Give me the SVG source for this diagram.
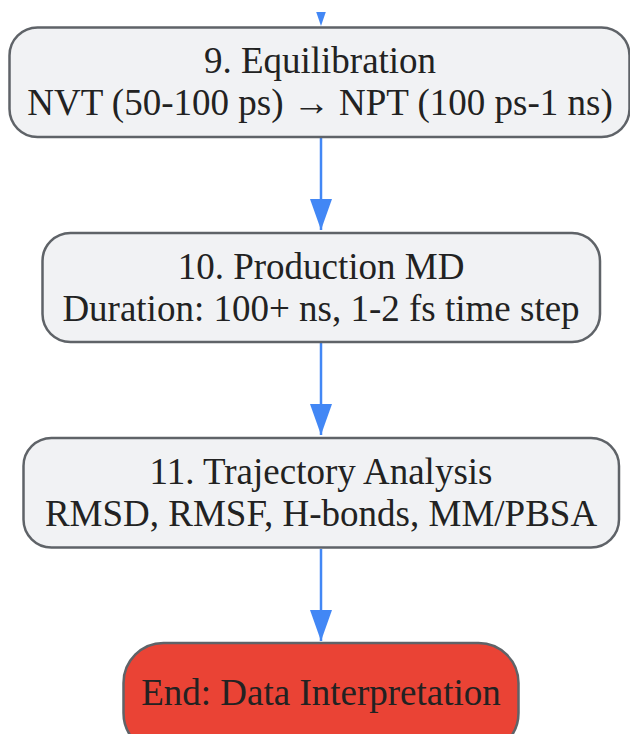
<svg xmlns="http://www.w3.org/2000/svg" width="630" height="734" viewBox="0 0 630 734">
  <defs>
    <marker id="arrow" viewBox="0 0 31 22" refX="31" refY="11" markerWidth="31" markerHeight="22" markerUnits="userSpaceOnUse" orient="auto">
      <path d="M0,0 L31,11 L0,22 Z" fill="#4287f5"/>
    </marker>
    <style>
      .node rect { fill: #f1f2f4; stroke: #5f6368; stroke-width: 2.5; }
      .node.end rect { fill: #ea4335; }
      .node text { font-family: "Liberation Serif", "Times New Roman", serif; font-size: 37px; fill: #222222; text-anchor: middle; }
      .edge { stroke: #4287f5; stroke-width: 2.5; fill: none; }
      .head { fill: #4287f5; }
    </style>
  </defs>
  <rect width="630" height="734" fill="#ffffff"/>

  <g id="connectors">
    <polygon class="head" points="316.2,12 325.8,12 321,26"/>
    <line class="edge" x1="321" y1="138" x2="321" y2="230" marker-end="url(#arrow)"/>
    <line class="edge" x1="321" y1="343" x2="321" y2="435" marker-end="url(#arrow)"/>
    <line class="edge" x1="321" y1="549" x2="321" y2="641" marker-end="url(#arrow)"/>
  </g>

  <g id="node9" class="node">
    <rect x="9.5" y="27.5" width="620" height="109.5" rx="28" ry="28"/>
    <text x="320" y="73">9. Equilibration</text>
    <text x="320" y="115">NVT (50-100 ps) → NPT (100 ps-1 ns)</text>
  </g>

  <g id="node10" class="node">
    <rect x="42.5" y="233" width="557.5" height="109" rx="28" ry="28"/>
    <text x="321" y="279">10. Production MD</text>
    <text x="321" y="321">Duration: 100+ ns, 1-2 fs time step</text>
  </g>

  <g id="node11" class="node">
    <rect x="23.5" y="438" width="595.5" height="109.5" rx="28" ry="28"/>
    <text x="321" y="484">11. Trajectory Analysis</text>
    <text x="321" y="526">RMSD, RMSF, H-bonds, MM/PBSA</text>
  </g>

  <g id="nodeEnd" class="node end">
    <rect x="123.5" y="643" width="395" height="110" rx="40" ry="40"/>
    <text x="321" y="705">End: Data Interpretation</text>
  </g>
</svg>
